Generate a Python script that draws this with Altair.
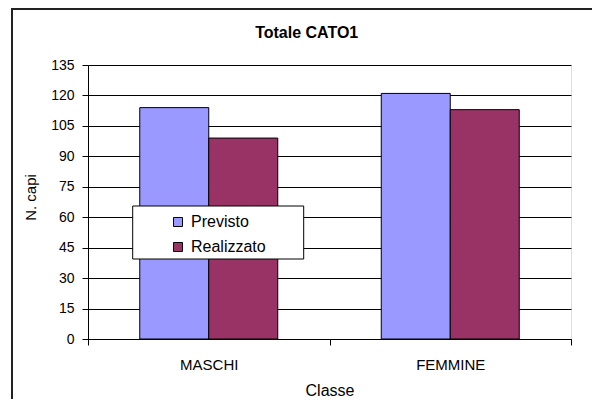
import altair as alt
import pandas as pd

# ---- data ----
CLASSI = ["MASCHI", "FEMMINE"]
SERIE = ["Previsto", "Realizzato"]
PREVISTO = [114, 121]
REALIZZATO = [99, 113]
COLORI = ["#9999FF", "#993366"]
Y_TICKS = list(range(0, 136, 15))
TITOLO = "Totale CATO1"
X_TITLE = "Classe"
Y_TITLE = "N. capi"

rows = []
for i, c in enumerate(CLASSI):
    rows.append({"Classe": c, "Serie": SERIE[0], "Valore": PREVISTO[i]})
    rows.append({"Classe": c, "Serie": SERIE[1], "Valore": REALIZZATO[i]})
df = pd.DataFrame(rows)

FONT = "Liberation Sans"
W, H = 483, 274

bars = alt.Chart(df).mark_bar(stroke="black", strokeWidth=1).encode(
    x=alt.X(
        "Classe:N",
        sort=CLASSI,
        scale=alt.Scale(paddingInner=0, paddingOuter=0),
        axis=alt.Axis(
            title=X_TITLE,
            labelAngle=0,
            labelFontSize=15,
            labelPadding=12,
            labelColor="black",
            tickBand="extent",
            tickSize=6,
            tickColor="black",
            domainColor="black",
            grid=False,
            titleFontSize=16,
            titleFontWeight="normal",
            titleColor="black",
            titleX=241.5,
            titleY=56,
            titleBaseline="alphabetic",
        ),
    ),
    xOffset=alt.XOffset(
        "Serie:N", sort=SERIE, scale=alt.Scale(paddingInner=0, paddingOuter=0.75)
    ),
    y=alt.Y(
        "Valore:Q",
        scale=alt.Scale(domain=[0, 135], nice=False),
        axis=alt.Axis(
            title=Y_TITLE,
            values=Y_TICKS,
            labelFontSize=14,
            labelPadding=8,
            labelColor="black",
            tickSize=6,
            tickColor="black",
            domainColor="black",
            grid=True,
            gridColor="black",
            gridWidth=1,
            titleFontSize=15,
            titleFontWeight="normal",
            titleColor="black",
            titleAngle=270,
            titleX=-58,
            titleY=132,
            titleAlign="center",
            titleBaseline="middle",
        ),
    ),
    color=alt.Color(
        "Serie:N",
        sort=SERIE,
        scale=alt.Scale(domain=SERIE, range=COLORI),
        legend=alt.Legend(
            title=None,
            orient="none",
            legendX=82,
            legendY=149,
            padding=0,
            symbolType="square",
            symbolSize=81,
            symbolStrokeColor="black",
            symbolStrokeWidth=1,
            symbolOpacity=1,
            labelFontSize=16,
            labelColor="black",
            labelOffset=5,
            rowPadding=9,
        ),
    ),
)

legend_box = alt.Chart(pd.DataFrame({"b": [0]})).mark_rect(
    fill="white", stroke="black", strokeWidth=1
).encode(
    x=alt.value(44.7), x2=alt.value(215.7), y=alt.value(141), y2=alt.value(194)
)

title = alt.Chart(pd.DataFrame({"t": [TITOLO]})).mark_text(
    font=FONT, fontSize=16, fontWeight="bold", color="black",
    align="center", baseline="alphabetic"
).encode(text="t:N", x=alt.value(218.7), y=alt.value(-27.3))

# outer chart-area frame (only its top and left edges fall inside the window)
frame_top = alt.Chart(pd.DataFrame({"b": [0]})).mark_rule(
    stroke="#222222", strokeWidth=2
).encode(x=alt.value(-77), x2=alt.value(504), y=alt.value(-56))

frame_left = alt.Chart(pd.DataFrame({"b": [0]})).mark_rule(
    stroke="#222222", strokeWidth=2
).encode(x=alt.value(-76), y=alt.value(-57), y2=alt.value(334))

chart = alt.layer(bars, legend_box, title, frame_top, frame_left).properties(
    width=W,
    height=H,
    autosize=alt.AutoSizeParams(type="none"),
    padding={"left": 80, "top": 57, "right": 21, "bottom": 60},
    background="white",
).configure_view(
    stroke="black", strokeWidth=1
).configure(
    font=FONT
)

chart.save("out.html", embed_options={"renderer": "svg", "actions": False})
